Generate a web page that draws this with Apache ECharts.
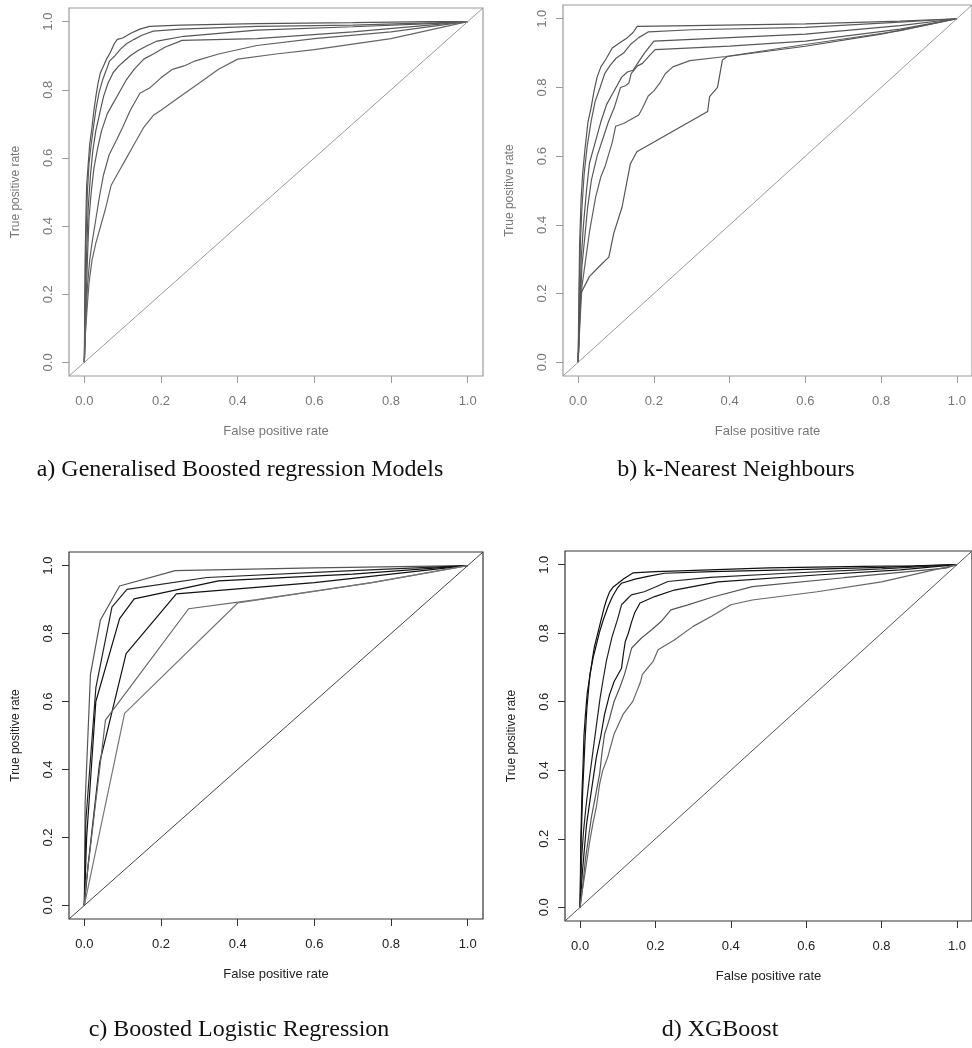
<!DOCTYPE html>
<html>
<head>
<meta charset="utf-8">
<script src="https://cdn.jsdelivr.net/npm/echarts@6/dist/echarts.min.js"></script>
<style>
  html, body { margin: 0; padding: 0; background: #fff; }
  #main { width: 972px; height: 1048px; }
</style>
</head>
<body>
<div id="main"></div>
<script>
  // 刻度
  var tickValues = [0, 0.2, 0.4, 0.6, 0.8, 1.0];
  var diagonal = [[-0.04, -0.04], [1.04, 1.04]];

  // a) GBM
  var gbmCurves = [
    [[0,0],[0.001,0.15],[0.002,0.3],[0.004,0.42],[0.006,0.52],[0.01,0.58],[0.014,0.64],[0.02,0.69],[0.024,0.73],[0.03,0.78],[0.036,0.82],[0.042,0.85],[0.05,0.87],[0.058,0.89],[0.068,0.91],[0.078,0.935],[0.086,0.948],[0.1,0.952],[0.12,0.965],[0.145,0.978],[0.17,0.986],[0.25,0.99],[0.45,0.994],[0.7,0.997],[0.9,1],[1,1]],
    [[0,0],[0.002,0.2],[0.004,0.35],[0.008,0.5],[0.012,0.58],[0.018,0.64],[0.025,0.7],[0.03,0.74],[0.038,0.79],[0.048,0.83],[0.058,0.86],[0.066,0.885],[0.08,0.9],[0.095,0.92],[0.11,0.935],[0.13,0.948],[0.15,0.96],[0.18,0.972],[0.25,0.978],[0.45,0.986],[0.7,0.99],[0.92,0.997],[1,1]],
    [[0,0],[0.003,0.18],[0.006,0.32],[0.01,0.45],[0.016,0.55],[0.022,0.62],[0.03,0.68],[0.04,0.73],[0.05,0.78],[0.062,0.82],[0.075,0.85],[0.09,0.87],[0.105,0.885],[0.12,0.9],[0.14,0.915],[0.165,0.93],[0.19,0.943],[0.26,0.957],[0.45,0.975],[0.7,0.985],[0.92,0.995],[1,1]],
    [[0,0],[0.004,0.15],[0.008,0.3],[0.012,0.42],[0.018,0.5],[0.025,0.57],[0.035,0.63],[0.045,0.68],[0.06,0.73],[0.075,0.76],[0.09,0.79],[0.11,0.83],[0.13,0.86],[0.155,0.89],[0.18,0.905],[0.21,0.925],[0.255,0.945],[0.45,0.95],[0.7,0.97],[0.9,0.99],[1,1]],
    [[0,0],[0.004,0.12],[0.008,0.22],[0.014,0.3],[0.02,0.35],[0.03,0.42],[0.04,0.49],[0.05,0.55],[0.065,0.61],[0.085,0.655],[0.1,0.69],[0.12,0.74],[0.145,0.79],[0.17,0.805],[0.2,0.835],[0.23,0.86],[0.26,0.87],[0.29,0.885],[0.35,0.905],[0.45,0.93],[0.6,0.95],[0.8,0.97],[1,1]],
    [[0,0],[0.003,0.09],[0.008,0.17],[0.012,0.23],[0.02,0.3],[0.03,0.35],[0.04,0.39],[0.055,0.45],[0.07,0.52],[0.09,0.56],[0.105,0.59],[0.13,0.64],[0.155,0.69],[0.18,0.725],[0.2,0.74],[0.25,0.78],[0.3,0.82],[0.35,0.86],[0.4,0.89],[0.5,0.905],[0.6,0.918],[0.8,0.95],[1,1]]
  ];

  // b) kNN
  var knnCurves = [
    [[0,0],[0.002,0.2],[0.004,0.35],[0.008,0.48],[0.012,0.55],[0.018,0.62],[0.026,0.7],[0.034,0.74],[0.042,0.79],[0.05,0.83],[0.06,0.86],[0.072,0.88],[0.09,0.915],[0.11,0.93],[0.13,0.945],[0.145,0.96],[0.156,0.978],[0.3,0.98],[0.6,0.985],[0.85,0.993],[1,1]],
    [[0,0],[0.003,0.2],[0.006,0.35],[0.01,0.45],[0.016,0.55],[0.024,0.63],[0.034,0.7],[0.045,0.76],[0.058,0.8],[0.07,0.84],[0.085,0.865],[0.1,0.885],[0.12,0.9],[0.138,0.925],[0.16,0.945],[0.186,0.962],[0.3,0.968],[0.6,0.975],[0.85,0.99],[1,1]],
    [[0,0],[0.004,0.15],[0.008,0.3],[0.014,0.4],[0.022,0.5],[0.03,0.58],[0.045,0.64],[0.06,0.7],[0.075,0.75],[0.09,0.78],[0.1,0.8],[0.115,0.83],[0.13,0.845],[0.145,0.85],[0.16,0.875],[0.175,0.9],[0.2,0.935],[0.3,0.94],[0.6,0.955],[0.85,0.98],[1,1]],
    [[0,0],[0.005,0.15],[0.01,0.28],[0.018,0.37],[0.025,0.45],[0.035,0.53],[0.05,0.6],[0.065,0.65],[0.08,0.7],[0.095,0.74],[0.112,0.8],[0.125,0.805],[0.134,0.813],[0.14,0.84],[0.156,0.862],[0.17,0.87],[0.19,0.895],[0.203,0.91],[0.4,0.92],[0.6,0.935],[0.85,0.97],[1,1]],
    [[0,0],[0.005,0.12],[0.01,0.22],[0.02,0.3],[0.03,0.38],[0.046,0.48],[0.06,0.54],[0.072,0.573],[0.09,0.64],[0.099,0.687],[0.12,0.695],[0.16,0.72],[0.17,0.74],[0.185,0.775],[0.2,0.79],[0.217,0.815],[0.23,0.84],[0.25,0.86],[0.295,0.878],[0.39,0.89],[0.6,0.925],[0.85,0.965],[1,1]],
    [[0,0],[0.003,0.1],[0.007,0.2],[0.03,0.25],[0.055,0.278],[0.081,0.306],[0.094,0.375],[0.116,0.452],[0.138,0.578],[0.155,0.613],[0.342,0.73],[0.347,0.773],[0.368,0.8],[0.381,0.88],[0.394,0.89],[0.6,0.92],[0.8,0.955],[1,1]]
  ];

  // c) Boosted Logistic Regression
  var logitCurves = [
    [[0,0],[0.002,0.3],[0.016,0.68],[0.042,0.84],[0.092,0.94],[0.237,0.985],[0.6,0.993],[1,1]],
    [[0,0],[0.004,0.25],[0.03,0.64],[0.072,0.878],[0.111,0.93],[0.32,0.965],[0.7,0.985],[1,1]],
    [[0,0],[0.006,0.2],[0.03,0.6],[0.092,0.844],[0.13,0.902],[0.35,0.955],[0.7,0.975],[1,1]],
    [[0,0],[0.01,0.12],[0.04,0.42],[0.109,0.741],[0.24,0.917],[0.6,0.95],[1,1]],
    [[0,0],[0.003,0.05],[0.055,0.545],[0.272,0.873],[0.45,0.9],[0.75,0.95],[1,1]],
    [[0,0],[0.105,0.565],[0.4,0.89],[0.75,0.95],[1,1]]
  ];

  // d) XGBoost
  var xgbCurves = [
    [[0,0],[0.002,0.2],[0.005,0.335],[0.008,0.42],[0.0103,0.5],[0.014,0.56],[0.019,0.625],[0.024,0.66],[0.032,0.72],[0.038,0.76],[0.049,0.809],[0.056,0.84],[0.064,0.875],[0.07,0.897],[0.078,0.92],[0.088,0.935],[0.1,0.945],[0.115,0.958],[0.14,0.976],[0.2,0.98],[0.284,0.983],[0.5,0.991],[0.75,0.995],[0.887,0.997],[1,1]],
    [[0,0],[0.003,0.2],[0.007,0.34],[0.013,0.485],[0.018,0.58],[0.026,0.679],[0.035,0.73],[0.044,0.77],[0.052,0.805],[0.062,0.84],[0.075,0.88],[0.086,0.907],[0.098,0.93],[0.11,0.946],[0.146,0.958],[0.18,0.966],[0.224,0.975],[0.35,0.98],[0.55,0.985],[0.8,0.992],[1,1]],
    [[0,0],[0.004,0.14],[0.009,0.22],[0.0155,0.292],[0.024,0.37],[0.032,0.437],[0.042,0.52],[0.053,0.61],[0.062,0.67],[0.07,0.72],[0.085,0.79],[0.099,0.839],[0.11,0.883],[0.125,0.9],[0.136,0.912],[0.17,0.921],[0.2,0.935],[0.233,0.951],[0.345,0.963],[0.55,0.975],[0.8,0.988],[1,1]],
    [[0,0],[0.006,0.1],[0.0172,0.243],[0.03,0.34],[0.043,0.437],[0.055,0.5],[0.065,0.563],[0.078,0.62],[0.0904,0.659],[0.11,0.698],[0.115,0.74],[0.12,0.776],[0.128,0.8],[0.137,0.834],[0.145,0.86],[0.159,0.888],[0.198,0.907],[0.25,0.926],[0.366,0.95],[0.628,0.97],[0.85,0.985],[1,1]],
    [[0,0],[0.007,0.06],[0.0138,0.137],[0.022,0.2],[0.0301,0.263],[0.04,0.32],[0.052,0.39],[0.058,0.45],[0.065,0.505],[0.078,0.55],[0.09,0.6],[0.105,0.64],[0.118,0.68],[0.128,0.72],[0.137,0.757],[0.163,0.786],[0.19,0.81],[0.215,0.834],[0.241,0.868],[0.284,0.882],[0.35,0.905],[0.457,0.936],[0.7,0.962],[0.97,0.99],[1,1]],
    [[0,0],[0.006,0.05],[0.0129,0.098],[0.026,0.195],[0.035,0.25],[0.043,0.292],[0.052,0.36],[0.06,0.399],[0.073,0.437],[0.09,0.505],[0.114,0.563],[0.14,0.601],[0.161,0.66],[0.165,0.679],[0.194,0.718],[0.207,0.752],[0.25,0.78],[0.3,0.82],[0.35,0.85],[0.4,0.883],[0.457,0.897],[0.629,0.921],[0.8,0.95],[1,1]]
  ];

  var captions = ['a) Generalised Boosted regression Models', 'b) k-Nearest Neighbours', 'c) Boosted Logistic Regression', 'd) XGBoost'];

  // 面板布局
  var panels = [
    { curves: gbmCurves, left: 69, top: 8, width: 414, height: 368, frame: '#9a9a9a', text: '#777', colors: ['#555','#5a5a5a','#555','#5a5a5a','#606060','#666'], diag: '#9a9a9a', capX: 240, capY: 470 },
    { curves: knnCurves, left: 563, top: 5, width: 414, height: 371, frame: '#9a9a9a', text: '#777', colors: ['#555','#5a5a5a','#555','#5a5a5a','#606060','#555'], diag: '#9a9a9a', capX: 736, capY: 470 },
    { curves: logitCurves, left: 69, top: 552, width: 414, height: 367, frame: '#333', text: '#222', colors: ['#555','#222','#111','#111','#666','#777'], diag: '#444', capX: 239, capY: 1030 },
    { curves: xgbCurves, left: 565, top: 551, width: 418, height: 370, frame: '#333', text: '#222', colors: ['#111','#111','#222','#111','#555','#666'], diag: '#555', capX: 720, capY: 1030 }
  ];

  var myChart = echarts.init(document.getElementById('main'));
  var grids = [], xAxes = [], yAxes = [], series = [], graphics = [];

  panels.forEach(function (p, i) {
    grids.push({ left: p.left, top: p.top, width: p.width, height: p.height, show: true, borderColor: p.frame, borderWidth: 1.2, backgroundColor: 'transparent' });
    var labelStyle = { color: p.text, fontFamily: 'Liberation Sans', fontSize: 13 };
    xAxes.push({
      gridIndex: i, type: 'value', min: -0.04, max: 1.04,
      name: 'False positive rate', nameLocation: 'middle', nameGap: 49,
      nameTextStyle: labelStyle,
      axisLine: { show: false, onZero: false },
      axisTick: { show: true, length: 7, customValues: tickValues, lineStyle: { color: p.frame } },
      axisLabel: Object.assign({ margin: 19, customValues: tickValues, formatter: function (v) { return v.toFixed(1); } }, labelStyle),
      splitLine: { show: false }
    });
    yAxes.push({
      gridIndex: i, type: 'value', min: -0.04, max: 1.04,
      name: 'True positive rate', nameLocation: 'middle', nameGap: 47, nameRotate: 90,
      nameTextStyle: Object.assign({}, labelStyle, { fontSize: 12 }),
      axisLine: { show: false, onZero: false },
      axisTick: { show: true, length: 7, customValues: tickValues, lineStyle: { color: p.frame } },
      axisLabel: Object.assign({ margin: 14, rotate: 90, customValues: tickValues, formatter: function (v) { return v.toFixed(1); } }, labelStyle),
      splitLine: { show: false }
    });
    p.curves.forEach(function (c, k) {
      series.push({
        type: 'line', xAxisIndex: i, yAxisIndex: i, data: c, showSymbol: false, silent: true,
        lineStyle: { color: p.colors[k], width: 1.2 }
      });
    });
    series.push({
      type: 'line', xAxisIndex: i, yAxisIndex: i, data: diagonal, showSymbol: false, silent: true,
      lineStyle: { color: p.diag, width: 1 }
    });
    graphics.push({
      type: 'text', x: p.capX, y: p.capY,
      style: { text: captions[i], fill: '#111', font: '24px "Liberation Serif"', textAlign: 'center', textVerticalAlign: 'middle' }
    });
  });

  myChart.setOption({
    animation: false,
    grid: grids,
    xAxis: xAxes,
    yAxis: yAxes,
    series: series,
    graphic: graphics
  });
</script>
</body>
</html>
